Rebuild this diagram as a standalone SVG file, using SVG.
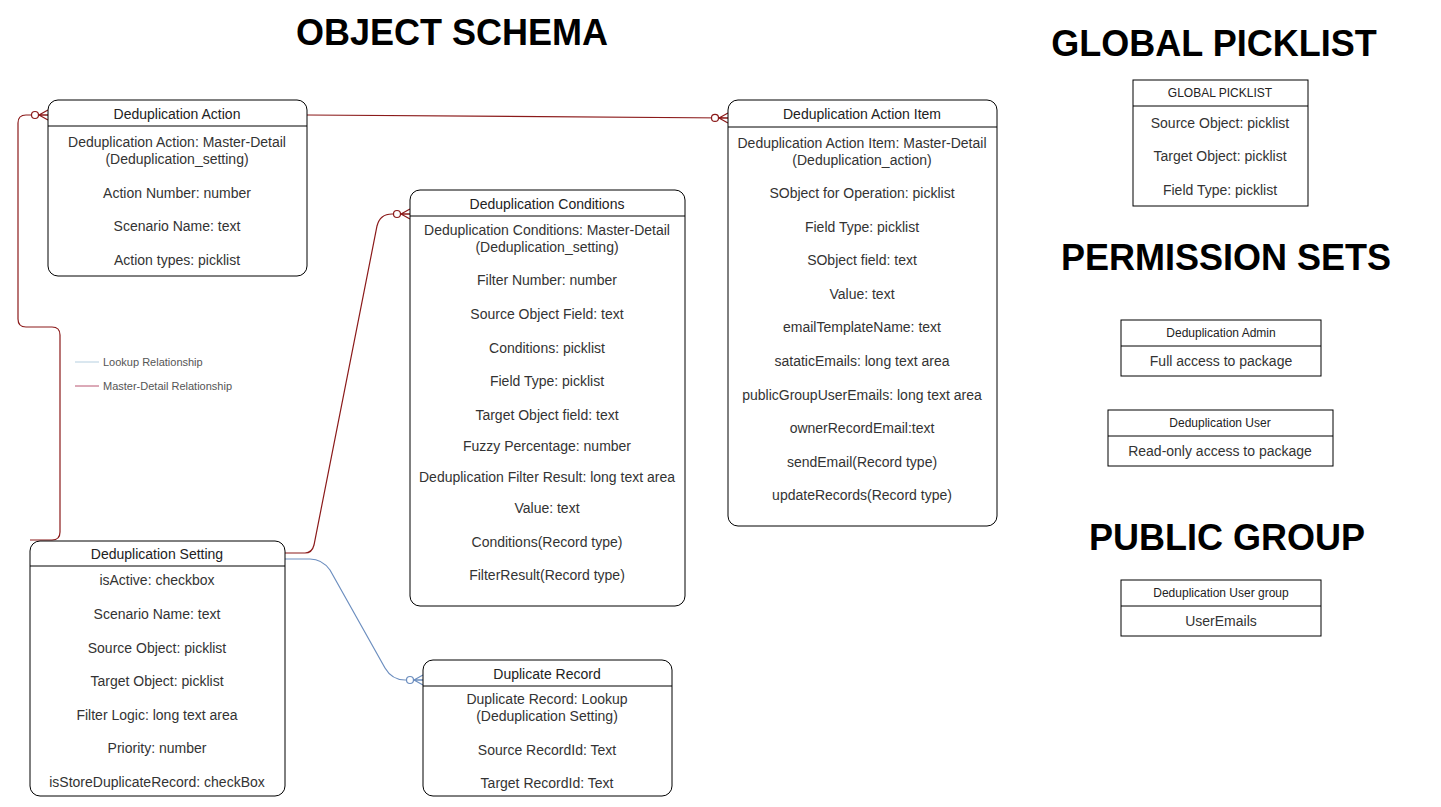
<svg xmlns="http://www.w3.org/2000/svg" width="1441" height="807" viewBox="0 0 1441 807">
<style>
.box{fill:#fff;stroke:#000;stroke-width:1}
.sep{stroke:#000;stroke-width:1}
.hd{font-family:"Liberation Sans",Arial,sans-serif;font-size:14px;fill:#222;text-anchor:middle}
.fd{font-family:"Liberation Sans",Arial,sans-serif;font-size:14px;fill:#333;text-anchor:middle}
.sh{font-family:"Liberation Sans",Arial,sans-serif;font-size:12px;fill:#222;text-anchor:middle}
.title{font-family:"Liberation Sans",Arial,sans-serif;font-size:36px;font-weight:bold;fill:#000;text-anchor:middle}
.md{fill:none;stroke:#8b1a1a;stroke-width:1.2}
.lk{fill:none;stroke:#6c8ebf;stroke-width:1.2}
.lg{font-family:"Liberation Sans",Arial,sans-serif;font-size:11px;fill:#555}
</style>
<defs>
<marker id="mdEnd" markerWidth="20" markerHeight="14" refX="18" refY="7" orient="auto" markerUnits="userSpaceOnUse">
<circle cx="5" cy="7" r="3.5" fill="#fff" stroke="#8b1a1a" stroke-width="1.2"/>
<path d="M8.5,7 H18 M18,2 L9,7 L18,12" fill="none" stroke="#8b1a1a" stroke-width="1.2"/>
</marker>
<marker id="lkEnd" markerWidth="20" markerHeight="14" refX="18" refY="7" orient="auto" markerUnits="userSpaceOnUse">
<circle cx="5" cy="7" r="3.5" fill="#fff" stroke="#6c8ebf" stroke-width="1.2"/>
<path d="M8.5,7 H18 M18,2 L9,7 L18,12" fill="none" stroke="#6c8ebf" stroke-width="1.2"/>
</marker>
</defs>
<rect width="1441" height="807" fill="#fff"/>

<text class="title" x="452" y="45">OBJECT SCHEMA</text>
<text class="title" x="1214" y="56">GLOBAL PICKLIST</text>
<text class="title" x="1226" y="270">PERMISSION SETS</text>
<text class="title" x="1227" y="550">PUBLIC GROUP</text>

<g id="connectors">
<path class="md" d="M30,540 H52 Q60,540 60,532 V335 Q60,327 52,327 H26 Q18,327 18,319 V123 Q18,115 26,115 H48" marker-end="url(#mdEnd)"/>
<path class="md" d="M307,115 L728,118" marker-end="url(#mdEnd)"/>
<path class="md" d="M285,553 H305 Q312,553 314,545 L377,226 Q380,214 392,214 H410" marker-end="url(#mdEnd)"/>
<path class="lk" d="M285,559 H310 Q322,559 330,570 L385,668 Q392,680 405,680 H423" marker-end="url(#lkEnd)"/>
</g>

<g id="legend">
<line x1="75" y1="362" x2="99" y2="362" stroke="#b5cfe0" stroke-width="1"/>
<text class="lg" x="103" y="366">Lookup Relationship</text>
<line x1="75" y1="386" x2="99" y2="386" stroke="#b85470" stroke-width="1"/>
<text class="lg" x="103" y="390">Master-Detail Relationship</text>
</g>

<g id="dedup-action">
<rect class="box" x="48" y="100" width="259" height="176" rx="10"/>
<line class="sep" x1="48" y1="126" x2="307" y2="126"/>
<text class="hd" x="177" y="119">Deduplication Action</text>
<text class="fd" x="177" y="147">Deduplication Action: Master-Detail</text>
<text class="fd" x="177" y="164">(Deduplication_setting)</text>
<text class="fd" x="177" y="198">Action Number: number</text>
<text class="fd" x="177" y="231">Scenario Name: text</text>
<text class="fd" x="177" y="265">Action types: picklist</text>
</g>

<g id="dedup-action-item">
<rect class="box" x="728" y="100" width="269" height="426" rx="10"/>
<line class="sep" x1="728" y1="127" x2="997" y2="127"/>
<text class="hd" x="862" y="119">Deduplication Action Item</text>
<text class="fd" x="862" y="148">Deduplication Action Item: Master-Detail</text>
<text class="fd" x="862" y="165">(Deduplication_action)</text>
<text class="fd" x="862" y="198">SObject for Operation: picklist</text>
<text class="fd" x="862" y="232">Field Type: picklist</text>
<text class="fd" x="862" y="265">SObject field: text</text>
<text class="fd" x="862" y="299">Value: text</text>
<text class="fd" x="862" y="332">emailTemplateName: text</text>
<text class="fd" x="862" y="366">sataticEmails: long text area</text>
<text class="fd" x="862" y="400">publicGroupUserEmails: long text area</text>
<text class="fd" x="862" y="433">ownerRecordEmail:text</text>
<text class="fd" x="862" y="467">sendEmail(Record type)</text>
<text class="fd" x="862" y="500">updateRecords(Record type)</text>
</g>

<g id="dedup-conditions">
<rect class="box" x="410" y="190" width="275" height="416" rx="10"/>
<line class="sep" x1="410" y1="216" x2="685" y2="216"/>
<text class="hd" x="547" y="209">Deduplication Conditions</text>
<text class="fd" x="547" y="235">Deduplication Conditions: Master-Detail</text>
<text class="fd" x="547" y="252">(Deduplication_setting)</text>
<text class="fd" x="547" y="285">Filter Number: number</text>
<text class="fd" x="547" y="319">Source Object Field: text</text>
<text class="fd" x="547" y="353">Conditions: picklist</text>
<text class="fd" x="547" y="386">Field Type: picklist</text>
<text class="fd" x="547" y="420">Target Object field: text</text>
<text class="fd" x="547" y="451">Fuzzy Percentage: number</text>
<text class="fd" x="547" y="482">Deduplication Filter Result: long text area</text>
<text class="fd" x="547" y="513">Value: text</text>
<text class="fd" x="547" y="547">Conditions(Record type)</text>
<text class="fd" x="547" y="580">FilterResult(Record type)</text>
</g>

<g id="dedup-setting">
<rect class="box" x="30" y="541" width="255" height="255" rx="10"/>
<line class="sep" x1="30" y1="566" x2="285" y2="566"/>
<text class="hd" x="157" y="559">Deduplication Setting</text>
<text class="fd" x="157" y="585">isActive: checkbox</text>
<text class="fd" x="157" y="619">Scenario Name: text</text>
<text class="fd" x="157" y="653">Source Object: picklist</text>
<text class="fd" x="157" y="686">Target Object: picklist</text>
<text class="fd" x="157" y="720">Filter Logic: long text area</text>
<text class="fd" x="157" y="753">Priority: number</text>
<text class="fd" x="157" y="787">isStoreDuplicateRecord: checkBox</text>
</g>

<g id="duplicate-record">
<rect class="box" x="423" y="660" width="249" height="136" rx="10"/>
<line class="sep" x1="423" y1="686" x2="672" y2="686"/>
<text class="hd" x="547" y="679">Duplicate Record</text>
<text class="fd" x="547" y="704">Duplicate Record: Lookup</text>
<text class="fd" x="547" y="721">(Deduplication Setting)</text>
<text class="fd" x="547" y="755">Source RecordId: Text</text>
<text class="fd" x="547" y="788">Target RecordId: Text</text>
</g>

<g id="global-picklist">
<rect class="box" x="1133" y="80" width="175" height="126"/>
<line class="sep" x1="1133" y1="106" x2="1308" y2="106"/>
<text class="sh" x="1220" y="97">GLOBAL PICKLIST</text>
<text class="fd" x="1220" y="128">Source Object: picklist</text>
<text class="fd" x="1220" y="161">Target Object: picklist</text>
<text class="fd" x="1220" y="195">Field Type: picklist</text>
</g>

<g id="dedup-admin">
<rect class="box" x="1121" y="320" width="200" height="56"/>
<line class="sep" x1="1121" y1="346" x2="1321" y2="346"/>
<text class="sh" x="1221" y="337">Deduplication Admin</text>
<text class="fd" x="1221" y="366">Full access to package</text>
</g>

<g id="dedup-user">
<rect class="box" x="1108" y="410" width="225" height="56"/>
<line class="sep" x1="1108" y1="436" x2="1333" y2="436"/>
<text class="sh" x="1220" y="427">Deduplication User</text>
<text class="fd" x="1220" y="456">Read-only access to package</text>
</g>

<g id="dedup-user-group">
<rect class="box" x="1121" y="580" width="200" height="56"/>
<line class="sep" x1="1121" y1="606" x2="1321" y2="606"/>
<text class="sh" x="1221" y="597">Deduplication User group</text>
<text class="fd" x="1221" y="626">UserEmails</text>
</g>
</svg>
